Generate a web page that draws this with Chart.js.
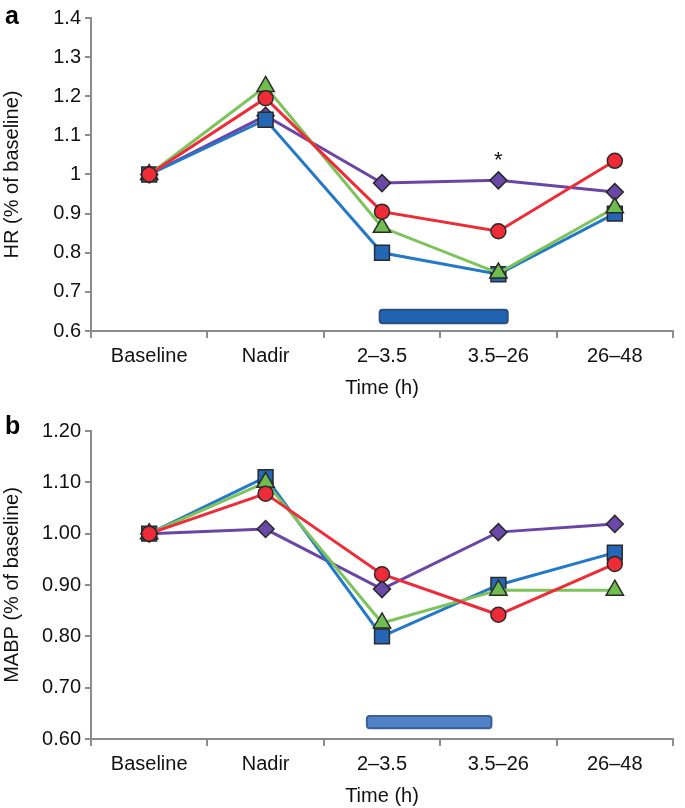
<!DOCTYPE html>
<html>
<head>
<meta charset="utf-8">
<script src="https://cdn.jsdelivr.net/npm/chart.js@4"></script>
<style>
  html, body { margin: 0; padding: 0; background: #fff; }
  #wrap { position: relative; width: 685px; height: 808px; }
  .panel { position: absolute; left: 0; width: 685px; }
  .tag { position: absolute; left: 5px; font: bold 25px "Liberation Sans", Arial, sans-serif; color: #000; }
</style>
</head>
<body>
<div id="wrap">
  <div class="panel" style="top:0;height:400px"><canvas id="hrChart" width="685" height="400"></canvas></div>
  <div class="panel" style="top:400px;height:408px"><canvas id="mabpChart" width="685" height="408"></canvas></div>
  <div class="tag" style="top:1px">a</div>
  <div class="tag" style="top:411px">b</div>
</div>
<script>
// categories
const timeLabels = ['Baseline', 'Nadir', '2–3.5', '3.5–26', '26–48'];

// panel a: heart rate, fraction of baseline
const hrTicks = [0.6, 0.7, 0.8, 0.9, 1.0, 1.1, 1.2, 1.3, 1.4];
const hrBlue = [1.0, 1.14, 0.80, 0.745, 0.90];
const hrGreen = [1.0, 1.225, 0.865, 0.748, 0.915];
const hrRed = [1.0, 1.195, 0.905, 0.855, 1.035];
const hrPurple = [1.0, 1.15, 0.978, 0.985, 0.955];
const hrStar = [3, 1.035];              // [category index, value]
const hrBarX = [1.98, 3.08];            // treatment bar along the category axis
const hrBarY = [0.62, 0.654];

// panel b: mean arterial blood pressure, fraction of baseline
const mabpTicks = [0.6, 0.7, 0.8, 0.9, 1.0, 1.1, 1.2];
const mabpBlue = [1.0, 1.11, 0.80, 0.90, 0.963];
const mabpGreen = [1.0, 1.10, 0.826, 0.89, 0.89];
const mabpRed = [1.0, 1.078, 0.921, 0.842, 0.941];
const mabpPurple = [1.0, 1.009, 0.892, 1.003, 1.019];
const mabpBarX = [1.87, 2.94];
const mabpBarY = [0.621, 0.645];

const axisGrey = '#8c8c8c';
const sans = '"Liberation Sans", Arial, sans-serif';

function series(data, line, fill, style, radius) {
    return {
        data: data,
        borderColor: line,
        borderWidth: 3,
        pointStyle: style,
        pointRadius: radius,
        pointBackgroundColor: fill,
        pointBorderColor: '#2a2a2a',
        pointBorderWidth: 1.5,
        tension: 0
    };
}

// draws the treatment bar and any significance star from the scales
const marks = {
    id: 'marks',
    beforeDatasetsDraw(chart, args, opts) {
        const x = chart.scales.x, y = chart.scales.y, ctx = chart.ctx;
        const x0 = x.getPixelForValue(opts.barX[0]), x1 = x.getPixelForValue(opts.barX[1]);
        const y0 = y.getPixelForValue(opts.barY[1]), y1 = y.getPixelForValue(opts.barY[0]);
        ctx.save();
        ctx.beginPath();
        ctx.roundRect(x0, y0, x1 - x0, y1 - y0, 3);
        ctx.fillStyle = opts.fill;
        ctx.fill();
        ctx.lineWidth = 2;
        ctx.strokeStyle = opts.edge;
        ctx.stroke();
        ctx.restore();
    },
    afterDatasetsDraw(chart, args, opts) {
        if (!opts.star) return;
        const ctx = chart.ctx;
        ctx.save();
        ctx.fillStyle = '#111';
        ctx.font = '22px ' + sans;
        ctx.textAlign = 'center';
        ctx.textBaseline = 'middle';
        ctx.fillText('*', chart.scales.x.getPixelForValue(opts.star[0]), chart.scales.y.getPixelForValue(opts.star[1]));
        ctx.restore();
    }
};

function makeChart(id, ticks, sets, yTitle, fmt, topPad, markOpts) {
    const ctx = document.getElementById(id).getContext('2d');
    return new Chart(ctx, {
        type: 'line',
        data: {
            labels: timeLabels,
            datasets: [
                series(sets[0], '#ee2b36', '#ee2b36', 'circle', 7.5),
                series(sets[1], '#7cc35a', '#6fbd4e', 'triangle', 10),
                series(sets[2], '#2478c8', '#2567b5', 'rect', 10.5),
                series(sets[3], '#6b45a6', '#6a48a8', 'rectRot', 8.5)
            ]
        },
        options: {
            responsive: false,
            animation: false,
            layout: { padding: { top: topPad, right: 3, left: 0, bottom: 0 } },
            plugins: { legend: { display: false }, tooltip: { enabled: false }, marks: markOpts },
            scales: {
                x: {
                    offset: true,
                    grid: { offset: true, drawOnChartArea: false, tickLength: 7, color: axisGrey, lineWidth: 2 },
                    border: { color: axisGrey, width: 2 },
                    ticks: { color: '#111', font: { family: sans, size: 20 }, padding: 6, maxRotation: 0 },
                    title: { display: true, text: 'Time (h)', color: '#111', font: { family: sans, size: 20 }, padding: 0 },
                    afterFit: s => { s.height = 69; }
                },
                y: {
                    min: ticks[0],
                    max: ticks[ticks.length - 1],
                    afterBuildTicks: s => { s.ticks = ticks.map(v => ({ value: v })); },
                    grid: { drawOnChartArea: false, tickLength: 6, color: axisGrey, lineWidth: 2 },
                    border: { color: axisGrey, width: 2 },
                    ticks: { color: '#111', font: { family: sans, size: 20 }, padding: 4, callback: fmt },
                    title: { display: true, text: yTitle, color: '#111', font: { family: sans, size: 20 }, padding: 0 },
                    afterFit: s => { s.width = 91; }
                }
            }
        },
        plugins: [marks]
    });
}

document.addEventListener('DOMContentLoaded', function() {
    makeChart('hrChart', hrTicks, [hrRed, hrGreen, hrBlue, hrPurple], 'HR (% of baseline)',
        v => String(+v.toFixed(1)), 18,
        { barX: hrBarX, barY: hrBarY, fill: '#1f63b2', edge: '#2c4f7e', star: hrStar });
    makeChart('mabpChart', mabpTicks, [mabpRed, mabpGreen, mabpBlue, mabpPurple], 'MABP (% of baseline)',
        v => v.toFixed(2), 31,
        { barX: mabpBarX, barY: mabpBarY, fill: '#4f82c6', edge: '#3b5f96' });
});
</script>
</body>
</html>
